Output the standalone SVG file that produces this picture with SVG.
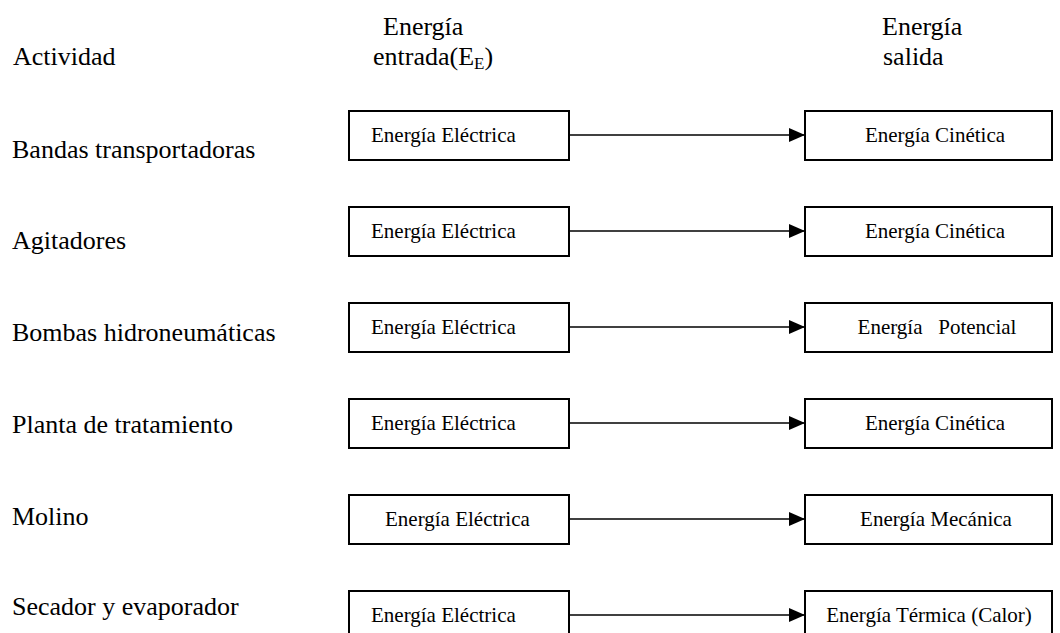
<svg xmlns="http://www.w3.org/2000/svg" width="1060" height="633" viewBox="0 0 1060 633" font-family="'Liberation Serif', 'DejaVu Serif', serif">
<style>
text{font-family:'Liberation Serif','DejaVu Serif',serif;fill:#000}
.big{font-size:26px}
.sm{font-size:21px}
.box{fill:#fff;stroke:#000;stroke-width:2}
.con line{stroke:#000;stroke-width:1.6}
</style>
<defs>
<marker id="ah" markerWidth="16" markerHeight="14" refX="16" refY="7" orient="auto" markerUnits="userSpaceOnUse">
<path d="M0,0 L16,7 L0,14 Z" fill="#000"/>
</marker>
</defs>
<rect width="1060" height="633" fill="#fff"/>
<g id="headers">
<text class="big" x="13" y="65">Actividad</text>
<text class="big" x="383" y="35">Energía</text>
<text class="big" x="373" y="65">entrada(E<tspan font-size="17" dy="4">E</tspan><tspan dy="-4">)</tspan></text>
<text class="big" x="882" y="35">Energía</text>
<text class="big" x="883" y="65">salida</text>
</g>
<g id="labels">
<text class="big" x="12" y="158">Bandas transportadoras</text>
<text class="big" x="12" y="249">Agitadores</text>
<text class="big" x="12" y="341">Bombas hidroneumáticas</text>
<text class="big" x="12" y="433">Planta de tratamiento</text>
<text class="big" x="12" y="525">Molino</text>
<text class="big" x="12" y="615">Secador y evaporador</text>
</g>
<g id="in1"><rect class="box" x="349" y="111" width="220" height="49"/><text class="sm" x="371" y="142">Energía Eléctrica</text></g>
<g id="in2"><rect class="box" x="349" y="207" width="220" height="49"/><text class="sm" x="371" y="238">Energía Eléctrica</text></g>
<g id="in3"><rect class="box" x="349" y="303" width="220" height="49"/><text class="sm" x="371" y="334">Energía Eléctrica</text></g>
<g id="in4"><rect class="box" x="349" y="399" width="220" height="49"/><text class="sm" x="371" y="430">Energía Eléctrica</text></g>
<g id="in5"><rect class="box" x="349" y="495" width="220" height="49"/><text class="sm" x="385" y="526">Energía Eléctrica</text></g>
<g id="in6"><rect class="box" x="349" y="591" width="220" height="60"/><text class="sm" x="371" y="622">Energía Eléctrica</text></g>
<g id="out1"><rect class="box" x="805" y="111" width="247" height="49"/><text class="sm" x="935" y="142" text-anchor="middle">Energía Cinética</text></g>
<g id="out2"><rect class="box" x="805" y="207" width="247" height="49"/><text class="sm" x="935" y="238" text-anchor="middle">Energía Cinética</text></g>
<g id="out3"><rect class="box" x="805" y="303" width="247" height="49"/><text class="sm" x="937" y="334" text-anchor="middle" xml:space="preserve">Energía   Potencial</text></g>
<g id="out4"><rect class="box" x="805" y="399" width="247" height="49"/><text class="sm" x="935" y="430" text-anchor="middle">Energía Cinética</text></g>
<g id="out5"><rect class="box" x="805" y="495" width="247" height="49"/><text class="sm" x="936" y="526" text-anchor="middle">Energía Mecánica</text></g>
<g id="out6"><rect class="box" x="805" y="591" width="247" height="60"/><text class="sm" x="929" y="622" text-anchor="middle">Energía Térmica (Calor)</text></g>
<g id="connectors" class="con">
<line x1="569" y1="135" x2="805" y2="135" marker-end="url(#ah)"/>
<line x1="569" y1="231" x2="805" y2="231" marker-end="url(#ah)"/>
<line x1="569" y1="327" x2="805" y2="327" marker-end="url(#ah)"/>
<line x1="569" y1="423" x2="805" y2="423" marker-end="url(#ah)"/>
<line x1="569" y1="519" x2="805" y2="519" marker-end="url(#ah)"/>
<line x1="569" y1="615" x2="805" y2="615" marker-end="url(#ah)"/>
</g>
</svg>
